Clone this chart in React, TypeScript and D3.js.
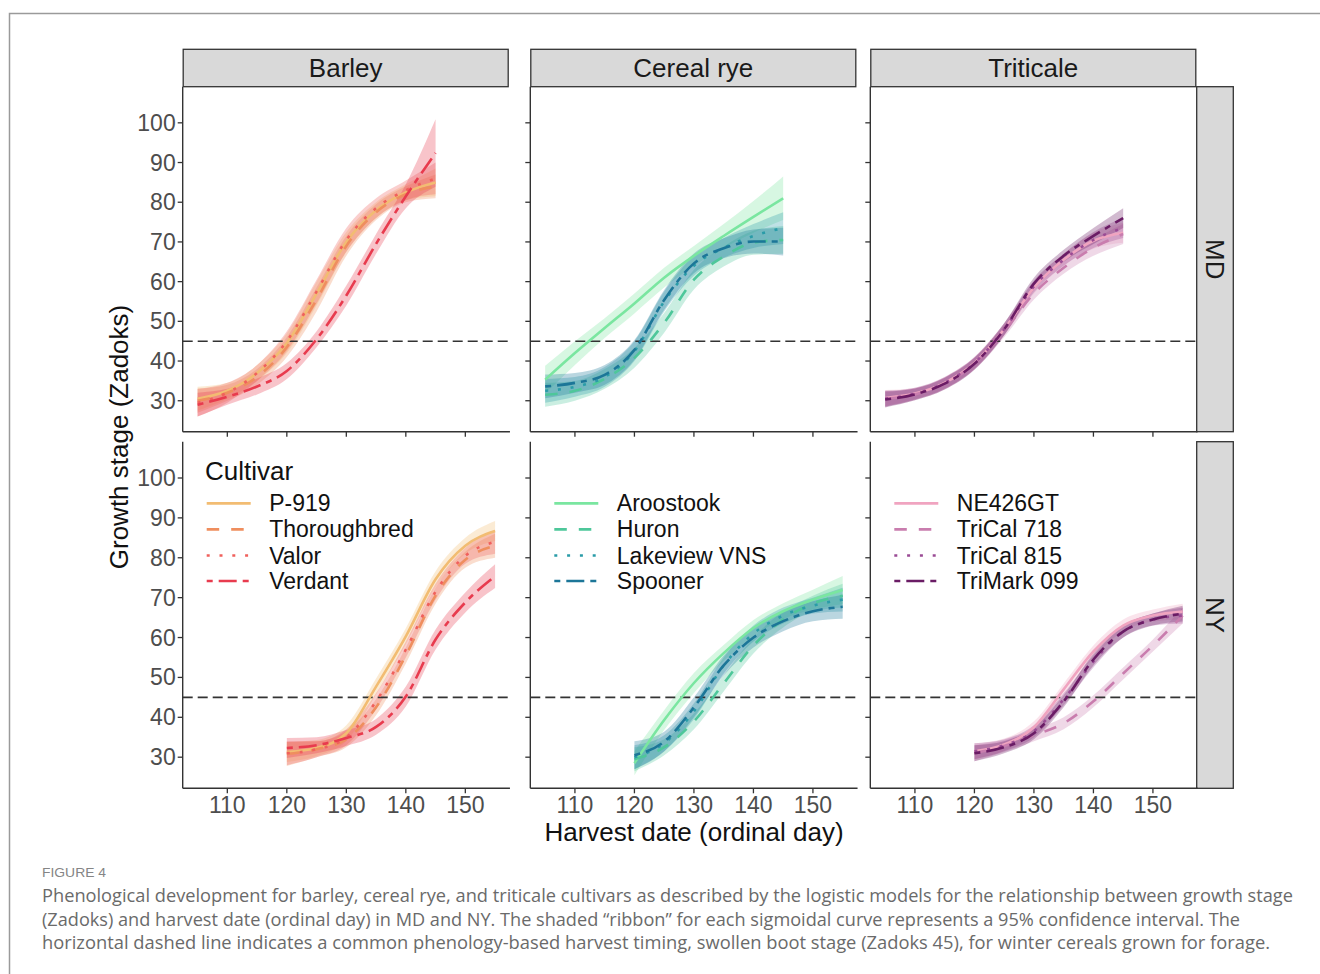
import React from "react";
import * as d3 from "d3";

// ---------------- data ----------------
const crops = ["Barley", "Cereal rye", "Triticale"];
const locations = ["MD", "NY"];

const barleyCultivars = ["P-919", "Thoroughbred", "Valor", "Verdant"];
const ryeCultivars = ["Aroostook", "Huron", "Lakeview VNS", "Spooner"];
const triticaleCultivars = ["NE426GT", "TriCal 718", "TriCal 815", "TriMark 099"];

const barleyColors = ["#F2BC72", "#EF8E5E", "#F0605C", "#E83B4E"];
const ryeColors = ["#7AE6A0", "#4EC79A", "#2A9CA8", "#1C7698"];
const triticaleColors = ["#F0A4C0", "#C97DAE", "#9A4B95", "#6A1C65"];

const lineTypes = ["solid", "dashed", "dotted", "twodash"];

const mdDays = [105, 110, 115, 120, 125, 130, 135, 140, 145];
const nyDays = [120, 125, 130, 135, 140, 145, 150, 155];

// fitted growth stage (Zadoks)
const barleyMD = [
  [30.5, 32.5, 37, 44.5, 57, 70, 78, 82.5, 85],
  [30, 32, 36, 43.5, 55.5, 69, 77.5, 82, 84],
  [29.5, 32, 37, 45, 57.5, 70.5, 78.5, 83, 86],
  [29, 31, 33.6, 37.5, 45.5, 56.5, 69.5, 81.5, 92.4],
];
const barleyMDci = [
  [3, 2, 2, 2.5, 3, 2.5, 2, 2, 3.5],
  [3, 2, 2, 2.5, 3, 2.5, 2, 2, 3],
  [3.5, 2.5, 2, 2.5, 3, 3, 2.5, 2.5, 4],
  [3, 2, 2, 2, 2, 2.5, 2.5, 3, 8.5],
];
const barleyNY = [
  [31.3, 32.3, 36, 47.7, 60.3, 74.6, 83, 86.7],
  [30.8, 32, 34.5, 42.5, 55.5, 70.5, 79.5, 83],
  [31, 32, 35, 44, 57, 71.5, 80.5, 84],
  [32.3, 33, 34.8, 37.6, 45.2, 59.5, 68.8, 75.4],
];
const barleyNYci = [
  [2.5, 2, 2, 2, 2, 2, 2, 2.5],
  [3, 2, 2, 2, 2, 2, 2, 3],
  [3, 2, 2, 2, 2, 2, 2, 3],
  [2.5, 2, 2, 2, 2.5, 2.5, 2.5, 3],
];

const ryeMD = [
  [35.3, 42, 48.3, 54.5, 61, 66.5, 71.5, 76.3, 81],
  [31.5, 32.5, 35.5, 40.8, 49.6, 60.5, 66.3, 69.8, 70.5],
  [32.5, 33.5, 36, 42.5, 55, 64, 68.5, 71.5, 73.5],
  [33.6, 34.5, 36.5, 42.8, 55.4, 64.6, 68.4, 70.1, 70.1],
];
const ryeMDci = [
  [3.5, 3, 2.5, 2.5, 2.5, 2.5, 3, 4, 5.5],
  [3, 2.5, 2.5, 2.5, 2.5, 2.5, 2.5, 3, 3.5],
  [3, 2.5, 2.5, 2.5, 2.5, 2.5, 2.5, 3, 4],
  [3, 2.5, 2.5, 2.5, 2.5, 2.5, 2.5, 3, 3.5],
];
const ryeNY = [
  [28.5, 39.3, 48.6, 56.1, 62.4, 66.6, 69.5, 71.9],
  [29.5, 32.5, 39, 48.5, 58, 64.5, 68.5, 70.5],
  [30, 33.5, 41.5, 53, 61, 65.5, 68, 69.5],
  [30.5, 33.9, 42.5, 53, 60, 64.1, 66.6, 67.7],
];
const ryeNYci = [
  [3, 2.5, 2.5, 2, 2, 2, 2.5, 3.5],
  [3, 2, 2, 2, 2, 2, 2, 3],
  [3, 2, 2, 2, 2, 2, 2, 3],
  [3.5, 2.5, 2.5, 2.5, 2.5, 2.5, 2.5, 3],
];

const triticaleMD = [
  [30.7, 31.8, 34.5, 39.5, 48, 58.5, 65.5, 70.3, 72.3],
  [30.5, 31.6, 34.3, 39.3, 47.5, 57, 63.5, 68.5, 72],
  [30.5, 31.8, 34.5, 39.5, 48, 58.8, 65.5, 70.5, 73.5],
  [30.3, 31.6, 34.3, 39.3, 48, 59.5, 66.5, 71.5, 76],
];
const triticaleMDci = [
  [2, 1.5, 1.5, 1.5, 1.5, 1.5, 1.5, 2, 2.5],
  [2, 1.5, 1.5, 1.5, 1.5, 1.5, 1.5, 2, 2.5],
  [2, 1.5, 1.5, 1.5, 1.5, 1.5, 1.5, 2, 2.5],
  [2, 1.5, 1.5, 1.5, 1.5, 1.5, 1.5, 2, 2.5],
];
const triticaleNY = [
  [31.5, 33.2, 37.5, 47, 56.5, 63, 65.5, 66.5],
  [31, 32.8, 35.5, 38.5, 44, 51, 58, 65.5],
  [31.5, 33, 36.5, 44.5, 54, 61.5, 64.5, 65.5],
  [31, 32.5, 36, 44, 54.5, 61.5, 64.5, 66],
];
const triticaleNYci = [
  [2, 1.5, 1.5, 1.5, 1.5, 1.5, 1.5, 2],
  [2, 1.5, 1.5, 1.5, 1.5, 1.5, 1.5, 2],
  [2, 1.5, 1.5, 1.5, 1.5, 1.5, 1.5, 2],
  [2, 1.5, 1.5, 1.5, 1.5, 1.5, 1.5, 2],
];

const yTicks = [30, 40, 50, 60, 70, 80, 90, 100];
const xTicks = [110, 120, 130, 140, 150];
const bootStage = 45;

const captionTitle = "FIGURE 4";
const captionLines = [
  "Phenological development for barley, cereal rye, and triticale cultivars as described by the logistic models for the relationship between growth stage",
  "(Zadoks) and harvest date (ordinal day) in MD and NY. The shaded \u201cribbon\u201d for each sigmoidal curve represents a 95% confidence interval. The",
  "horizontal dashed line indicates a common phenology-based harvest timing, swollen boot stage (Zadoks 45), for winter cereals grown for forage.",
];

// ---------------- layout ----------------
const FONT = "'Liberation Sans', Arial, Helvetica, sans-serif";
const colX0 = [182.7, 530.3, 870.3];
const panelW = 327.25;
const stripW = 325;
const rowY = [
  [86.7, 431.7],
  [441.7, 788.3],
];
const stripTop = 49.3;
const rightStripX0 = 1196.7;
const rightStripX1 = 1233.3;

const dashFor: Record<string, string | undefined> = {
  solid: undefined,
  dashed: "12.5,12",
  dotted: "3,9.8",
  twodash: "6,6,18,6",
};

const colData = [
  { cultivars: barleyCultivars, colors: barleyColors, md: barleyMD, mdCI: barleyMDci, ny: barleyNY, nyCI: barleyNYci },
  { cultivars: ryeCultivars, colors: ryeColors, md: ryeMD, mdCI: ryeMDci, ny: ryeNY, nyCI: ryeNYci },
  { cultivars: triticaleCultivars, colors: triticaleColors, md: triticaleMD, mdCI: triticaleMDci, ny: triticaleNY, nyCI: triticaleNYci },
];

function Panel({ ci, ri }: { ci: number; ri: number }) {
  const x0 = colX0[ci];
  const [yT, yB] = rowY[ri];
  const x = d3.scaleLinear().domain([102.5, 157.5]).range([x0, x0 + panelW]);
  const y = d3.scaleLinear().domain([22.2, 109.1]).range([yB, yT]);
  const cd = colData[ci];
  const days = ri === 0 ? mdDays : nyDays;
  const fits = ri === 0 ? cd.md : cd.ny;
  const cis = ri === 0 ? cd.mdCI : cd.nyCI;

  const line = (vals: number[]) =>
    d3
      .line<number>()
      .x((_, i) => x(days[i]))
      .y((d) => y(d))
      .curve(d3.curveMonotoneX)(vals) || "";
  const area = (vals: number[], hw: number[]) =>
    d3
      .area<number>()
      .x((_, i) => x(days[i]))
      .y0((d, i) => y(d - hw[i]))
      .y1((d, i) => y(d + hw[i]))
      .curve(d3.curveMonotoneX)(vals) || "";

  const axisColor = "#333333";
  return (
    <g>
      {/* ribbons */}
      {fits.map((vals, k) => (
        <path key={"r" + k} d={area(vals, cis[k])} fill={cd.colors[k]} fillOpacity={0.3} stroke="none" />
      ))}
      {/* reference line */}
      <line
        x1={x0}
        x2={x0 + panelW}
        y1={y(bootStage)}
        y2={y(bootStage)}
        stroke="#333"
        strokeWidth={1.6}
        strokeDasharray="10,5"
      />
      {/* lines */}
      {fits.map((vals, k) => (
        <path
          key={"l" + k}
          d={line(vals)}
          fill="none"
          stroke={cd.colors[k]}
          strokeWidth={2.6}
          strokeDasharray={dashFor[lineTypes[k]]}
        />
      ))}
      {/* axes */}
      <line x1={x0} x2={x0} y1={yT} y2={yB} stroke={axisColor} strokeWidth={1.4} />
      <line x1={x0} x2={x0 + panelW} y1={yB} y2={yB} stroke={axisColor} strokeWidth={1.4} />
      {yTicks.map((t) => (
        <g key={"yt" + t}>
          <line x1={x0 - 5} x2={x0} y1={y(t)} y2={y(t)} stroke={axisColor} strokeWidth={1.3} />
          {ci === 0 && (
            <text
              x={x0 - 7}
              y={y(t)}
              textAnchor="end"
              dominantBaseline="central"
              fontSize={23}
              fill="#4D4D4D"
              fontFamily={FONT}
            >
              {t}
            </text>
          )}
        </g>
      ))}
      {xTicks.map((t) => (
        <g key={"xt" + t}>
          <line x1={x(t)} x2={x(t)} y1={yB} y2={yB + 5} stroke={axisColor} strokeWidth={1.3} />
          {ri === 1 && (
            <text x={x(t)} y={yB + 25} textAnchor="middle" fontSize={23} fill="#4D4D4D" fontFamily={FONT}>
              {t}
            </text>
          )}
        </g>
      ))}
      {/* legend in NY row */}
      {ri === 1 && (
        <g>
          {ci === 0 && (
            <text x={205} y={480} fontSize={26} fill="#111" fontFamily={FONT}>
              Cultivar
            </text>
          )}
          {cd.cultivars.map((name, k) => {
            const ly = [503.3, 529.3, 555.5, 581][k];
            const kx = x0 + 24;
            return (
              <g key={"lg" + k}>
                <line
                  x1={kx}
                  x2={kx + 44}
                  y1={ly}
                  y2={ly}
                  stroke={cd.colors[k]}
                  strokeWidth={2.7}
                  strokeDasharray={dashFor[lineTypes[k]]}
                />
                <text x={x0 + 86.5} y={ly} dominantBaseline="central" fontSize={23} fill="#111" fontFamily={FONT}>
                  {name}
                </text>
              </g>
            );
          })}
        </g>
      )}
    </g>
  );
}

export default function App() {
  return (
    <svg
      width={1320}
      height={974}
      viewBox="0 0 1320 974"
      style={{ position: "absolute", left: 0, top: 0, background: "#fff" }}
    >
      <rect x={0} y={0} width={1320} height={974} fill="#fff" />
      {/* outer frame */}
      <path d="M9.5,974 L9.5,13.5 L1320,13.5" fill="none" stroke="#9a9a9a" strokeWidth={1.5} />

      {/* top strips */}
      {crops.map((c, ci) => (
        <g key={"s" + c}>
          <rect
            x={colX0[ci] + 0.5}
            y={stripTop}
            width={stripW}
            height={rowY[0][0] - stripTop}
            fill="#D9D9D9"
            stroke="#333"
            strokeWidth={1.3}
          />
          <text
            x={colX0[ci] + 0.5 + stripW / 2}
            y={(stripTop + rowY[0][0]) / 2}
            textAnchor="middle"
            dominantBaseline="central"
            fontSize={26}
            fill="#1a1a1a"
            fontFamily={FONT}
          >
            {c}
          </text>
        </g>
      ))}
      {/* right strips */}
      {locations.map((l, ri) => (
        <g key={"rs" + l}>
          <rect
            x={rightStripX0}
            y={rowY[ri][0]}
            width={rightStripX1 - rightStripX0}
            height={rowY[ri][1] - rowY[ri][0]}
            fill="#D9D9D9"
            stroke="#333"
            strokeWidth={1.3}
          />
          <text
            transform={`translate(${(rightStripX0 + rightStripX1) / 2},${(rowY[ri][0] + rowY[ri][1]) / 2}) rotate(90)`}
            textAnchor="middle"
            dominantBaseline="central"
            fontSize={26}
            fill="#1a1a1a"
            fontFamily={FONT}
          >
            {l}
          </text>
        </g>
      ))}

      {[0, 1].map((ri) => [0, 1, 2].map((ci) => <Panel key={ri + "-" + ci} ci={ci} ri={ri} />))}

      {/* axis titles */}
      <text
        transform="translate(119,437) rotate(-90)"
        textAnchor="middle"
        dominantBaseline="central"
        fontSize={26}
        fill="#111"
        fontFamily={FONT}
      >
        Growth stage (Zadoks)
      </text>
      <text x={694} y={841} textAnchor="middle" fontSize={26} fill="#111" fontFamily={FONT}>
        Harvest date (ordinal day)
      </text>

      {/* caption */}
      <text
        x={42}
        y={877}
        fontSize={13}
        fill="#858585"
        fontFamily="'Liberation Sans Narrow', 'Liberation Sans', Arial, sans-serif"
        textLength={64}
        lengthAdjust="spacingAndGlyphs"
      >
        {captionTitle}
      </text>
      {captionLines.map((t, i) => (
        <text
          key={"cap" + i}
          x={42}
          y={902 + i * 23.5}
          fontSize={17.5}
          fill="#6a6a6a"
          fontFamily="'Liberation Sans Narrow', 'Open Sans', sans-serif"
          textLength={[1251, 1198, 1228][i]}
          lengthAdjust="spacingAndGlyphs"
        >
          {t}
        </text>
      ))}
    </svg>
  );
}
